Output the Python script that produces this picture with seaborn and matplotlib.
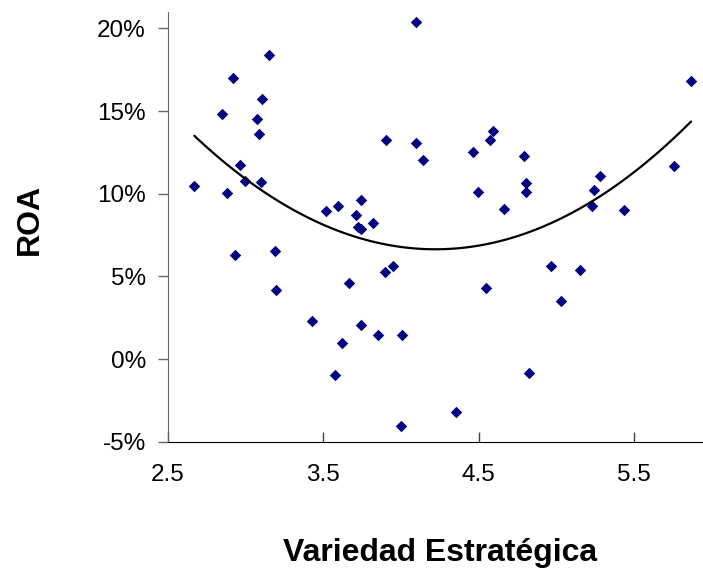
import numpy as np
import pandas as pd
from matplotlib import pyplot as plt
from matplotlib.ticker import PercentFormatter
import seaborn as sns

# Variedad estrategica (x) vs ROA (y, as fraction)
variedad = [4.097, 3.148, 2.917, 3.107, 2.850, 3.073, 3.088, 3.904, 4.097, 4.142,
            2.964, 2.998, 3.099, 2.669, 2.882, 3.517, 3.593, 3.709, 3.741, 3.822,
            3.721, 3.743,
            2.934, 3.189, 3.197, 3.947, 3.895, 3.666, 3.427, 3.741, 3.622, 3.852,
            4.009, 3.575, 4.000,
            5.868, 4.595, 4.576, 4.462, 4.792, 5.760, 5.284, 5.245, 4.807, 4.807,
            4.494, 4.662, 5.228, 5.438,
            4.966, 5.155, 4.546, 5.031, 4.825, 4.354]
roa = [20.37, 18.38, 17.00, 15.70, 14.83, 14.53, 13.60, 13.22, 13.06, 12.05,
       11.75, 10.74, 10.70, 10.48, 10.02, 8.93, 9.23, 8.71, 9.63, 8.24,
       8.00, 7.88,
       6.29, 6.51, 4.19, 5.60, 5.28, 4.59, 2.30, 2.07, 0.99, 1.45,
       1.45, -0.95, -4.03,
       16.79, 13.77, 13.22, 12.52, 12.29, 11.69, 11.08, 10.24, 10.62, 10.08,
       10.10, 9.09, 9.23, 9.01,
       5.60, 5.36, 4.27, 3.51, -0.87, -3.19]

df = pd.DataFrame({"Variedad": variedad, "ROA": np.array(roa) / 100})

sns.set_style("ticks")
plt.rcParams['font.family'] = ['Liberation Sans', 'DejaVu Sans']
plt.rcParams['axes.unicode_minus'] = False
plt.rcParams['text.color'] = 'black'
plt.rcParams['axes.labelcolor'] = 'black'

fig = plt.figure(figsize=(7.03, 5.77), dpi=100)
ax = fig.add_axes([0.239, 0.2345, 0.761, 0.745])

sns.regplot(data=df, x="Variedad", y="ROA", order=2, ci=None, ax=ax, marker="D",
            scatter_kws=dict(s=34, color="#000080", linewidths=0, alpha=1),
            line_kws=dict(color="black", linewidth=1.6))

ax.set_xlim(2.5, 5.945)
ax.set_ylim(-0.05, 0.21)
ax.set_xticks([2.5, 3.5, 4.5, 5.5])
ax.set_xticklabels(["2.5", "3.5", "4.5", "5.5"])
ax.set_yticks([-0.05, 0, 0.05, 0.10, 0.15, 0.20])
ax.yaxis.set_major_formatter(PercentFormatter(xmax=1, decimals=0))

ax.tick_params(axis="x", direction="in", length=7, width=1, color="#444444",
               pad=16, labelsize=17.5, labelcolor="black")
ax.tick_params(axis="y", direction="out", length=7, width=1, color="#666666",
               pad=9, labelsize=17.5, labelcolor="black")

sns.despine(ax=ax)
ax.spines["left"].set_color("#666666")
ax.spines["bottom"].set_color("black")

ax.set_xlabel("Variedad Estratégica", fontsize=23, fontweight="bold", va="center")
ax.set_ylabel("ROA", fontsize=23, fontweight="bold", va="center")
ax.xaxis.set_label_coords(0.509, -0.258)
ax.yaxis.set_label_coords(-0.259, 0.516)

plt.savefig("out.png", dpi=100)
